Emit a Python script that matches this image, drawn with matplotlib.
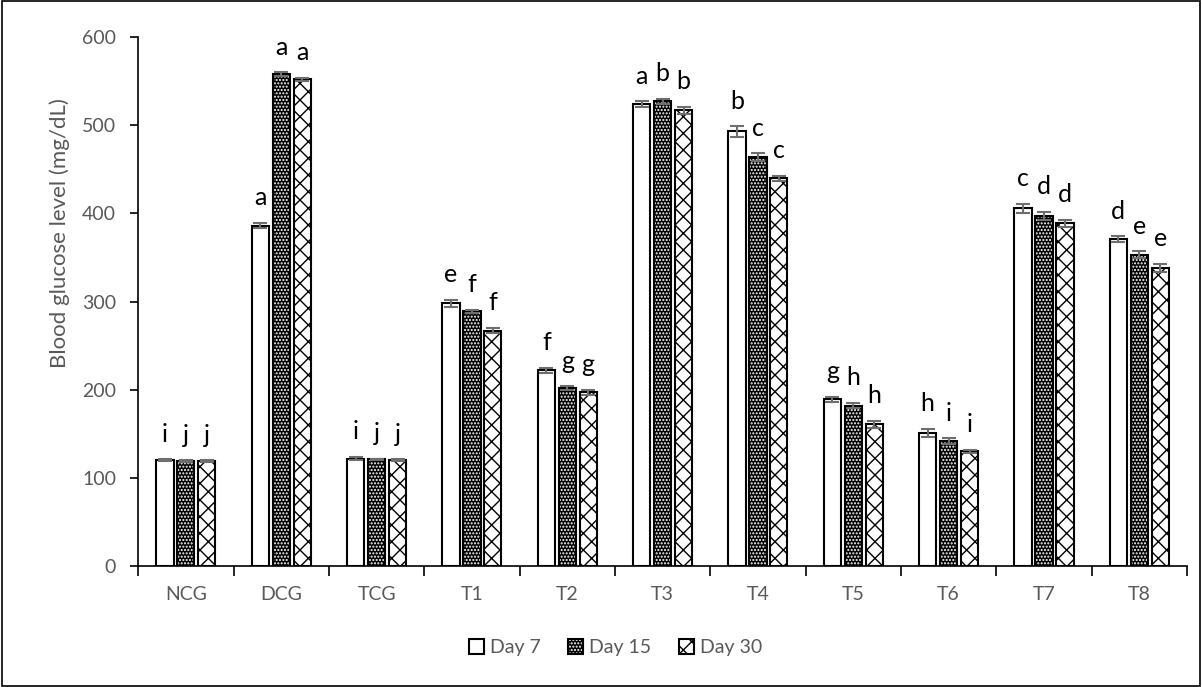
import numpy as np
import matplotlib.pyplot as plt
from matplotlib.patches import Rectangle
from matplotlib.legend_handler import HandlerTuple

groups = ['NCG', 'DCG', 'TCG', 'T1', 'T2', 'T3', 'T4', 'T5', 'T6', 'T7', 'T8']
series = ['Day 7', 'Day 15', 'Day 30']

day7 = [120, 386, 122, 298, 222, 524, 493, 189, 151, 406, 371]
day15 = [119, 558, 121, 289, 202, 527, 464, 182, 142, 397, 353]
day30 = [119, 552, 120, 267, 197, 517, 440, 161, 130, 389, 338]

err7 = [1, 3, 2, 4, 3, 3, 6, 3, 5, 5, 3]
err15 = [1, 2, 1, 2, 2, 3, 4, 3, 3, 5, 4]
err30 = [1, 2, 1, 3, 3, 4, 3, 4, 2, 4, 5]

let7 = ['i', 'a', 'i', 'e', 'f', 'a', 'b', 'g', 'h', 'c', 'd']
let15 = ['j', 'a', 'j', 'f', 'g', 'b', 'c', 'h', 'i', 'd', 'e']
let30 = ['j', 'a', 'j', 'f', 'g', 'b', 'c', 'h', 'i', 'd', 'e']

plt.rcParams['font.family'] = ['Lato', 'DejaVu Sans']
plt.rcParams['hatch.linewidth'] = 1.0
gray = '#595959'

fig = plt.figure(figsize=(12.02, 6.87), dpi=100)
ax = fig.add_axes([0.115, 0.176, 0.8725, 0.770])
fig.patches.append(Rectangle((0.002, 0.002), 0.996, 0.996, transform=fig.transFigure,
                             fill=False, edgecolor='black', linewidth=1.2))

x = np.arange(len(groups))
w = 0.18
step = 0.22
vals = [day7, day15, day30]
errs = [err7, err15, err30]
lets = [let7, let15, let30]
handles = []
for i in range(3):
    pos = x + (i - 1) * step
    if i == 0:
        b = ax.bar(pos, vals[i], w, color='white', edgecolor='black', linewidth=1.5, zorder=2)
        h = b[0]
    elif i == 1:
        b1 = ax.bar(pos, vals[i], w, color='black', edgecolor='white', hatch='.....',
                    linewidth=0, zorder=2)
        b2 = ax.bar(pos, vals[i], w, fill=False, edgecolor='black', linewidth=1.5, zorder=3)
        h = (b1[0], b2[0])
    else:
        b1 = ax.bar(pos, vals[i], w, color='white', edgecolor='black', hatch='xx',
                    linewidth=0, zorder=2)
        b2 = ax.bar(pos, vals[i], w, fill=False, edgecolor='black', linewidth=1.5, zorder=3)
        h = (b1[0], b2[0])
    handles.append(h)
    ax.errorbar(pos, vals[i], yerr=errs[i], fmt='none', ecolor='#6e6e6e',
                elinewidth=1.5, capsize=5, capthick=1.5, zorder=4)
    for p, v, e, t in zip(pos, vals[i], errs[i], lets[i]):
        ax.text(p, v + e + 20, t, ha='center', va='baseline', fontsize=18, color='black')

ax.set_xlim(-0.5, len(groups) - 0.5)
ax.set_ylim(0, 600)
ax.set_yticks(range(0, 601, 100))
ax.set_xticks(x)
ax.set_xticklabels(groups)
ax.set_xticks(np.arange(-0.5, len(groups), 1), minor=True)
ax.tick_params(axis='x', which='major', length=0, pad=14, labelsize=14, labelcolor=gray)
ax.tick_params(axis='x', which='minor', length=7, width=1.2, direction='out')
ax.tick_params(axis='y', length=6, width=1.2, labelsize=14, labelcolor=gray, pad=10)
for s in ['top', 'right']:
    ax.spines[s].set_visible(False)
ax.spines['left'].set_linewidth(1.2)
ax.spines['bottom'].set_linewidth(1.2)
ax.set_ylabel('Blood glucose level (mg/dL)', fontsize=16, color=gray)
ax.yaxis.set_label_coords(-0.065, 0.63)

fig.legend(handles, series, loc='center', bbox_to_anchor=(0.512, 0.057), ncol=3,
           frameon=False, fontsize=14, labelcolor=gray, handlelength=0.8, handleheight=0.8,
           handletextpad=0.3, columnspacing=1.4,
           handler_map={tuple: HandlerTuple(ndivide=1, pad=0)})

fig.savefig('out.png', dpi=100)
